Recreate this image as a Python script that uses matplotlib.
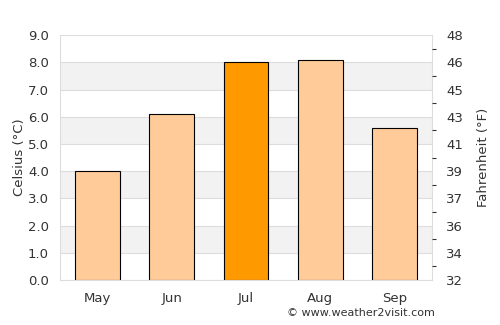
import matplotlib
matplotlib.use("Agg")
import matplotlib.pyplot as plt
import numpy as np

months = ["May", "Jun", "Jul", "Aug", "Sep"]
celsius = [4.0, 6.1, 8.0, 8.1, 5.6]
highlight = "Jul"
c_ticks = [0, 1, 2, 3, 4, 5, 6, 7, 8, 9]
f_labels = ["32", "34", "36", "37", "39", "41", "43", "45", "46", "48"]

fig = plt.figure(figsize=(5, 3.25), dpi=100)
ax = fig.add_axes([0.12, 0.1385, 0.744, 0.7535])

grid_c = "#dddddd"
for i in range(1, 9, 2):
    ax.axhspan(i, i + 1, color="#f2f2f2", zorder=0, lw=0)
for y in c_ticks:
    ax.axhline(y, color=grid_c, lw=0.8, zorder=0.5)

x = np.arange(len(months))
colors = ["#ff9900" if m == highlight else "#ffcc99" for m in months]
ax.bar(x, celsius, width=0.6, color=colors, edgecolor="black", linewidth=0.8, zorder=2)

ax.set_xlim(-0.5, len(months) - 0.5)
ax.set_ylim(0, 9)
ax.set_xticks(x)
ax.set_xticklabels(months)
ax.set_yticks(c_ticks)
ax.set_yticklabels([f"{v:.1f}" for v in c_ticks])
txt = "#333333"
ax.tick_params(axis="both", length=0, labelsize=9.5, colors=txt, pad=8)
ax.tick_params(axis="x", pad=9)
ax.set_ylabel("Celsius (°C)", color=txt, fontsize=9.5, labelpad=1)
ax.spines["top"].set_visible(False)
for s in ["left", "bottom", "right"]:
    ax.spines[s].set_color(grid_c)
    ax.spines[s].set_linewidth(0.8)

ax2 = ax.twinx()
ax2.set_ylim(0, 9)
ax2.set_yticks(c_ticks)
ax2.set_yticklabels(f_labels)
ax2.set_yticks(np.arange(0.5, 9, 1.0), minor=True)
ax2.tick_params(axis="y", which="major", length=0, labelsize=9.5, colors=txt, pad=10)
ax2.tick_params(axis="y", which="minor", length=3, color="#333333", width=0.8)
ax2.set_ylabel("Fahrenheit (°F)", color=txt, fontsize=9.5, labelpad=10)
for s in ax2.spines.values():
    s.set_visible(False)

fig.text(0.87, 0.036, "© www.weather2visit.com", ha="right", va="center", fontsize=8, color=txt)

fig.savefig("out.png", dpi=100)
